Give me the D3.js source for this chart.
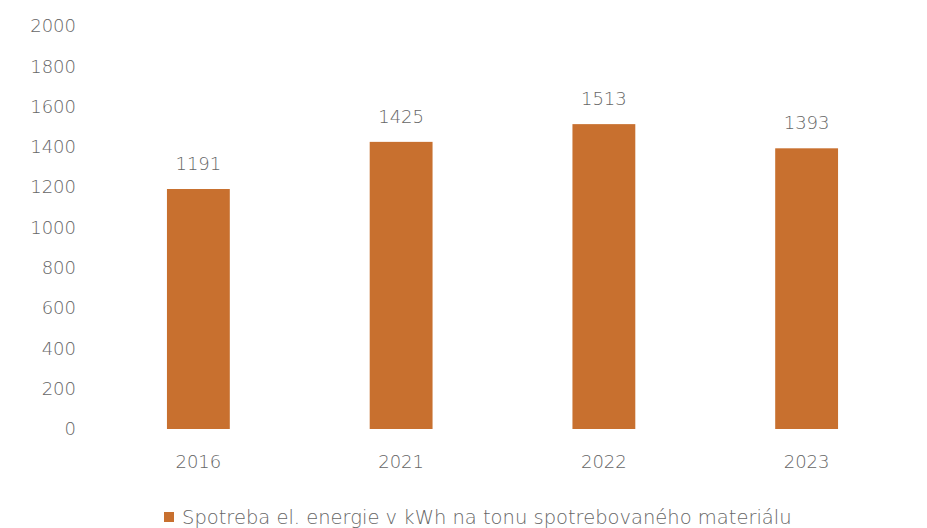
<!DOCTYPE html>
<html>
<head>
<meta charset="utf-8">
<script src="https://cdn.jsdelivr.net/npm/d3@7"></script>
<style>
  html, body { margin: 0; padding: 0; background: #fff; }
  svg text { font-family: "DejaVu Sans", "Open Sans", sans-serif; font-weight: 200; fill: #666666; }
</style>
</head>
<body>
<svg id="chart" width="927" height="528"></svg>
<script>
// Electricity consumption per tonne of consumed material
const years = ["2016", "2021", "2022", "2023"];
const consumption = [1191, 1425, 1513, 1393];
const yTicks = [0, 200, 400, 600, 800, 1000, 1200, 1400, 1600, 1800, 2000];
const seriesName = "Spotreba el. energie v kWh na tonu spotrebovaného materiálu";

const barColor = "#c8702f";
const fontSize = 18;
const svg = d3.select("#chart");

const x = d3.scaleBand().domain(years).range([97, 908]).paddingInner(0.69).paddingOuter(0.345);
const y = d3.scaleLinear().domain([0, 2000]).range([429, 26]);

// Y axis: labels only, no line or ticks
const yAxis = svg.append("g")
  .attr("transform", "translate(78,0)")
  .call(d3.axisLeft(y).tickValues(yTicks).tickFormat(d3.format("d")).tickSize(0).tickPadding(2));
yAxis.select(".domain").remove();
yAxis.selectAll("text")
  .attr("font-size", fontSize)
  .attr("font-family", null)
  .attr("fill", null);

// X axis: category labels only
const xAxis = svg.append("g")
  .attr("transform", "translate(0,449)")
  .call(d3.axisBottom(x).tickSize(0).tickPadding(6));
xAxis.select(".domain").remove();
xAxis.selectAll("text")
  .attr("font-size", fontSize)
  .attr("font-family", null)
  .attr("fill", null);

// Bars
svg.append("g").selectAll("rect")
  .data(years.map((d, i) => ({ year: d, value: consumption[i] })))
  .join("rect")
  .attr("x", d => x(d.year))
  .attr("width", x.bandwidth())
  .attr("y", d => y(d.value))
  .attr("height", d => y(0) - y(d.value))
  .attr("fill", barColor);

// Value labels above bars
svg.append("g").selectAll("text")
  .data(years.map((d, i) => ({ year: d, value: consumption[i] })))
  .join("text")
  .attr("x", d => x(d.year) + x.bandwidth() / 2)
  .attr("y", d => y(d.value) - 19)
  .attr("text-anchor", "middle")
  .attr("font-size", fontSize)
  .text(d => d.value);

// Legend
const legend = svg.append("g").attr("transform", "translate(164,517)");
legend.append("rect")
  .attr("x", 0).attr("y", -5)
  .attr("width", 10).attr("height", 10)
  .attr("fill", barColor);
legend.append("text")
  .attr("x", 18).attr("y", 0)
  .attr("dy", "0.35em")
  .attr("font-size", 19.5)
  .text(seriesName);
</script>
</body>
</html>
